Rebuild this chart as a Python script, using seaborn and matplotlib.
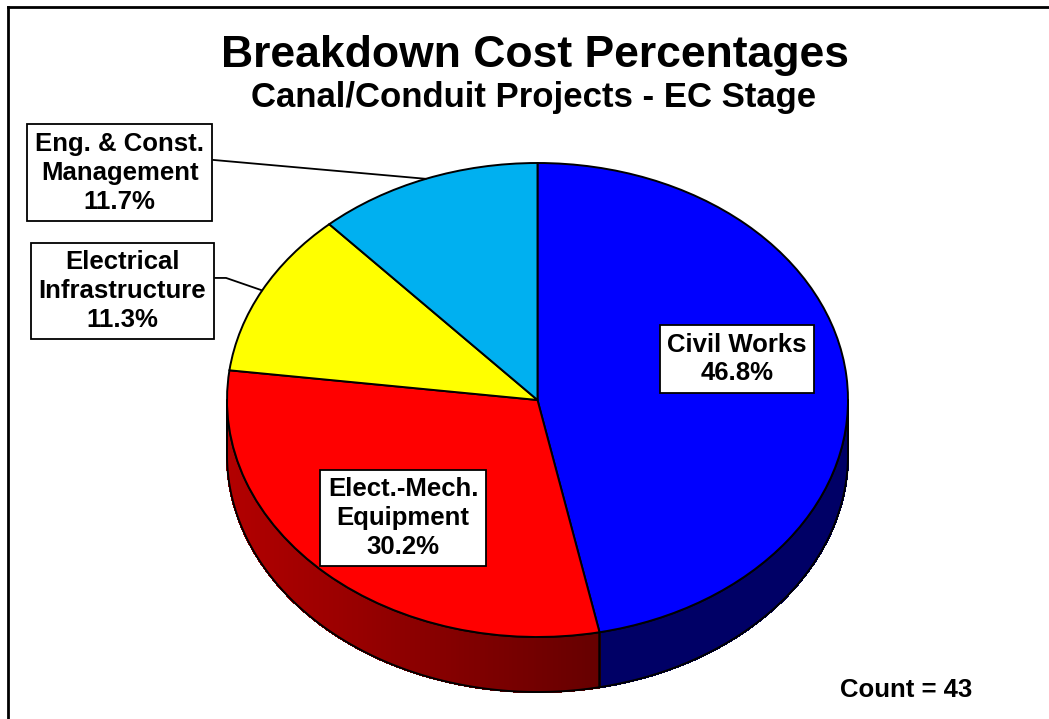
import numpy as np
import matplotlib
matplotlib.use("Agg")
import matplotlib.pyplot as plt
import matplotlib.colors as mcolors
import seaborn as sns

categories = ["Civil Works", "Elect.-Mech.\nEquipment",
              "Electrical\nInfrastructure", "Eng. & Const.\nManagement"]
shares = [46.8, 30.2, 11.3, 11.7]
count = 43

title = "Breakdown Cost Percentages"
subtitle = "Canal/Conduit Projects - EC Stage"

top_colors = ["#0000FF", "#FF0000", "#FFFF00", "#00B0F0"]

sns.set_style("white")
plt.rcParams["font.family"] = ["Liberation Sans", "DejaVu Sans"]
plt.rcParams["text.color"] = "black"

W, H = 1049, 719
fig = plt.figure(figsize=(W / 100, H / 100), dpi=100)
fig.patch.set_facecolor("white")

# the source image only shows the top and left edge of the chart frame
frame = fig.add_axes([8 / W, 0, 1 - 8 / W, 1 - 7 / H])
frame.set_xticks([])
frame.set_yticks([])
for side in ["right", "bottom"]:
    frame.spines[side].set_visible(False)
for side in ["left", "top"]:
    frame.spines[side].set_linewidth(2)
    frame.spines[side].set_color("black")

ax = fig.add_axes([0, 0, 1, 1])
ax.patch.set_alpha(0)

# pie centre (537.5, 400) px, radii 310.5 x 237 px, wall depth 55 px
cx, cy, rx, ry = 537.5, 400, 310.5, 237
depth = 55 / ry

wedges, _ = ax.pie(shares, colors=top_colors, startangle=90, counterclock=False,
                   wedgeprops=dict(edgecolor="black", linewidth=1.4))
for w in wedges:
    w.set_zorder(3)

ax.set_aspect("auto")
ax.set_xlim(-cx / rx, (W - cx) / rx)
ax.set_ylim(-(H - cy) / ry, cy / ry)
ax.axis("off")


def shade(x):
    # side wall is lit from the left
    return 0.4 + 0.3 * np.clip((0.2 - x) / 1.2, 0, 1)


for w, c in zip(wedges, top_colors):
    base = np.array(mcolors.to_rgb(c))
    for k in (-360, 0, 360):
        a, b = max(w.theta1, -180 + k), min(w.theta2, k)
        if b <= a:
            continue
        t = np.radians(np.linspace(a, b, int(b - a) * 2 + 2))
        x, y = np.cos(t), np.sin(t)
        for i in range(len(t) - 1):
            xs = [x[i], x[i + 1], x[i + 1], x[i]]
            ys = [y[i], y[i + 1], y[i + 1] - depth, y[i] - depth]
            col = base * shade((x[i] + x[i + 1]) / 2)
            ax.fill(xs, ys, color=col, lw=1.0, antialiased=False, zorder=1)
        ax.fill(np.r_[x, x[::-1]], np.r_[y, y[::-1] - depth], fill=False,
                edgecolor="black", lw=1.4, zorder=2)

# label boxes
label_xy = [(0.6425, 0.173), (-0.433, -0.498), (-1.338, 0.46), (-1.346, 0.958)]
for name, share, (lx, ly) in zip(categories, shares, label_xy):
    ax.text(lx, ly, f"{name}\n{share:.1f}%", ha="center", va="center",
            fontsize=18.5, fontweight="bold", linespacing=1.25, zorder=5,
            bbox=dict(boxstyle="square,pad=0.3", fc="white", ec="black", lw=1.3))

# leader lines from the outside boxes to the rim
leaders = {2: [(-1.0386, 0.515), (-1.003, 0.515)], 3: [(-1.045, 1.013)]}
for i, pts in leaders.items():
    w = wedges[i]
    mid = np.radians((w.theta1 + w.theta2) / 2)
    xs = [p[0] for p in pts] + [np.cos(mid)]
    ys = [p[1] for p in pts] + [np.sin(mid)]
    ax.plot(xs, ys, color="black", lw=1.3, zorder=4)

fig.text(535 / W, 1 - 67 / H, title, ha="center", va="baseline",
         fontsize=32, fontweight="bold")
fig.text(534 / W, 1 - 107 / H, subtitle, ha="center", va="baseline",
         fontsize=25, fontweight="bold")
fig.text(972 / W, 1 - 697 / H, f"Count = {count}", ha="right", va="baseline",
         fontsize=18.5, fontweight="bold")

fig.savefig("out.png", dpi=100)
plt.close(fig)
